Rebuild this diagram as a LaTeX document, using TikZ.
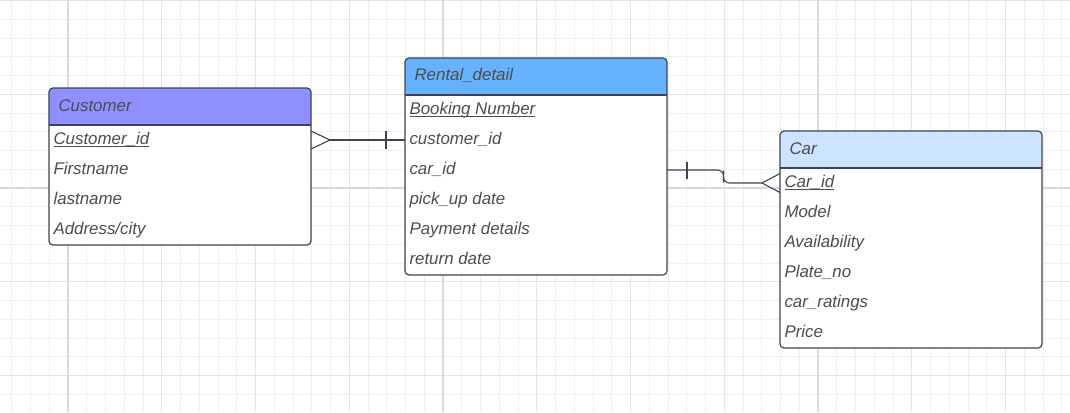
\documentclass[tikz,border=0pt]{standalone}
\usepackage{fontspec}
\setmainfont{Liberation Sans}
\usetikzlibrary{positioning, calc}
\definecolor{gridminor}{HTML}{EFEFEF}
\definecolor{gridmid}{HTML}{E5E5E5}
\definecolor{gridmajor}{HTML}{DADADA}
\definecolor{inkline}{HTML}{3F4350}
\definecolor{inktext}{HTML}{4D4D4D}
\definecolor{custhead}{HTML}{8F8FFF}
\definecolor{renthead}{HTML}{66B2FF}
\definecolor{carhead}{HTML}{CCE4FF}
\newsavebox{\keybox}
\newcommand{\pkey}[1]{\sbox{\keybox}{#1}\rlap{\rule[-2.6pt]{\wd\keybox}{0.9pt}}\usebox{\keybox}}
\newcommand{\tablehead}[2]{%
  \begin{scope}
    \clip[rounded corners=4pt] (#1.south west) rectangle (#1.north east);
    \fill[#2] (#1.north west) rectangle ([yshift=-37pt]#1.north east);
  \end{scope}
  \draw[tableline] ([yshift=-37pt]#1.north west) -- ([yshift=-37pt]#1.north east);
  \draw[tableline, rounded corners=4pt] (#1.south west) rectangle (#1.north east);}
\tikzset{
  tablebox/.style={fill=white, minimum width=262pt, minimum height=217pt, inner sep=0pt, outer sep=0pt},
  tableline/.style={draw=inkline, line width=1.2pt},
  headtext/.style={anchor=north west, minimum height=37pt, text height=12pt, text depth=3pt,
    inner sep=0pt, outer sep=0pt, text=inktext, font=\fontsize{16.9}{19}\selectfont\itshape},
  rowtext/.style={anchor=north west, minimum height=30pt, text height=9pt, text depth=0pt,
    inner sep=0pt, outer sep=0pt, text=inktext, font=\fontsize{16.9}{19}\selectfont\itshape},
  relline/.style={draw=inkline, line width=1.1pt},
}
\begin{document}
\begin{tikzpicture}[x=1pt, y=-1pt]
    \useasboundingbox[fill=white] (0,0) rectangle (1070,412);
    % background grid
    \foreach \x in {11.75,30.5,...,1070} \draw[gridminor, line width=0.9pt] (\x,0) -- (\x,412);
    \foreach \y in {0.5,19.25,...,412} \draw[gridminor, line width=0.9pt] (0,\y) -- (1070,\y);
    \foreach \x in {68,161.75,...,1070} \draw[gridmid, line width=1.2pt] (\x,0) -- (\x,412);
    \foreach \y in {0.5,94.25,...,412} \draw[gridmid, line width=1.2pt] (0,\y) -- (1070,\y);
    \foreach \x in {68,443,818} \draw[gridmajor, line width=2pt] (\x,0) -- (\x,412);
    \draw[gridmajor, line width=2pt] (0,188) -- (1070,188);

    % Customer
    \node[tablebox, minimum height=157pt] (cust) at (180,166.5) {};
    \tablehead{cust}{custhead}
    \node[headtext, below right=0pt and 9.5pt of cust.north west] (cust-head) {Customer};
    \node[rowtext, below right=37pt and 4.5pt of cust.north west] (cust-1) {\pkey{Customer\_id}};
    \node[rowtext, below=0pt of cust-1.south west, anchor=north west] (cust-2) {Firstname};
    \node[rowtext, below=0pt of cust-2.south west, anchor=north west] (cust-3) {lastname};
    \node[rowtext, below=0pt of cust-3.south west, anchor=north west] (cust-4) {Address/city};

    % Rental_detail
    \node[tablebox] (rent) at (536,166.5) {};
    \tablehead{rent}{renthead}
    \node[headtext, below right=0pt and 9.5pt of rent.north west] (rent-head) {Rental\_detail};
    \node[rowtext, below right=37pt and 4.5pt of rent.north west] (rent-1) {\pkey{Booking Number}};
    \node[rowtext, below=0pt of rent-1.south west, anchor=north west] (rent-2) {customer\_id};
    \node[rowtext, below=0pt of rent-2.south west, anchor=north west] (rent-3) {car\_id};
    \node[rowtext, below=0pt of rent-3.south west, anchor=north west] (rent-4) {pick\_up date};
    \node[rowtext, below=0pt of rent-4.south west, anchor=north west] (rent-5) {Payment details};
    \node[rowtext, below=0pt of rent-5.south west, anchor=north west] (rent-6) {return date};

    % Car
    \node[tablebox] (car) at (911,239.5) {};
    \tablehead{car}{carhead}
    \node[headtext, below right=0pt and 9.5pt of car.north west] (car-head) {Car};
    \node[rowtext, below right=37pt and 4.5pt of car.north west] (car-1) {\pkey{Car\_id}};
    \node[rowtext, below=0pt of car-1.south west, anchor=north west] (car-2) {Model};
    \node[rowtext, below=0pt of car-2.south west, anchor=north west] (car-3) {Availability};
    \node[rowtext, below=0pt of car-3.south west, anchor=north west] (car-4) {Plate\_no};
    \node[rowtext, below=0pt of car-4.south west, anchor=north west] (car-5) {car\_ratings};
    \node[rowtext, below=0pt of car-5.south west, anchor=north west] (car-6) {Price};

    % many customers -- one rental
    \coordinate (cust-end) at (cust.east |- cust-1);
    \coordinate (rent-in) at (rent.west |- rent-2);
    \draw[relline] ($(cust-end)+(19,0)$) -- (rent-in);
    \draw[relline] ($(cust-end)+(0,-9)$) -- ++(19,9) -- ++(-19,9);
    \draw[relline] ($(rent-in)+(-19,-9)$) -- ++(0,18);

    % one rental -- many cars
    \coordinate (rent-out) at (rent.east |- rent-3);
    \coordinate (car-in) at (car.west |- car-1);
    \draw[relline, rounded corners=6pt] (rent-out) -| ($(rent-out)!.5!(car-in)$) |- ($(car-in)+(-18,0)$);
    \draw[relline] ($(rent-out)+(20,-8.5)$) -- ++(0,17);
    \draw[relline] ($(car-in)+(0,-9.5)$) -- ++(-18,9.5) -- ++(18,9.5);
\end{tikzpicture}
\end{document}
